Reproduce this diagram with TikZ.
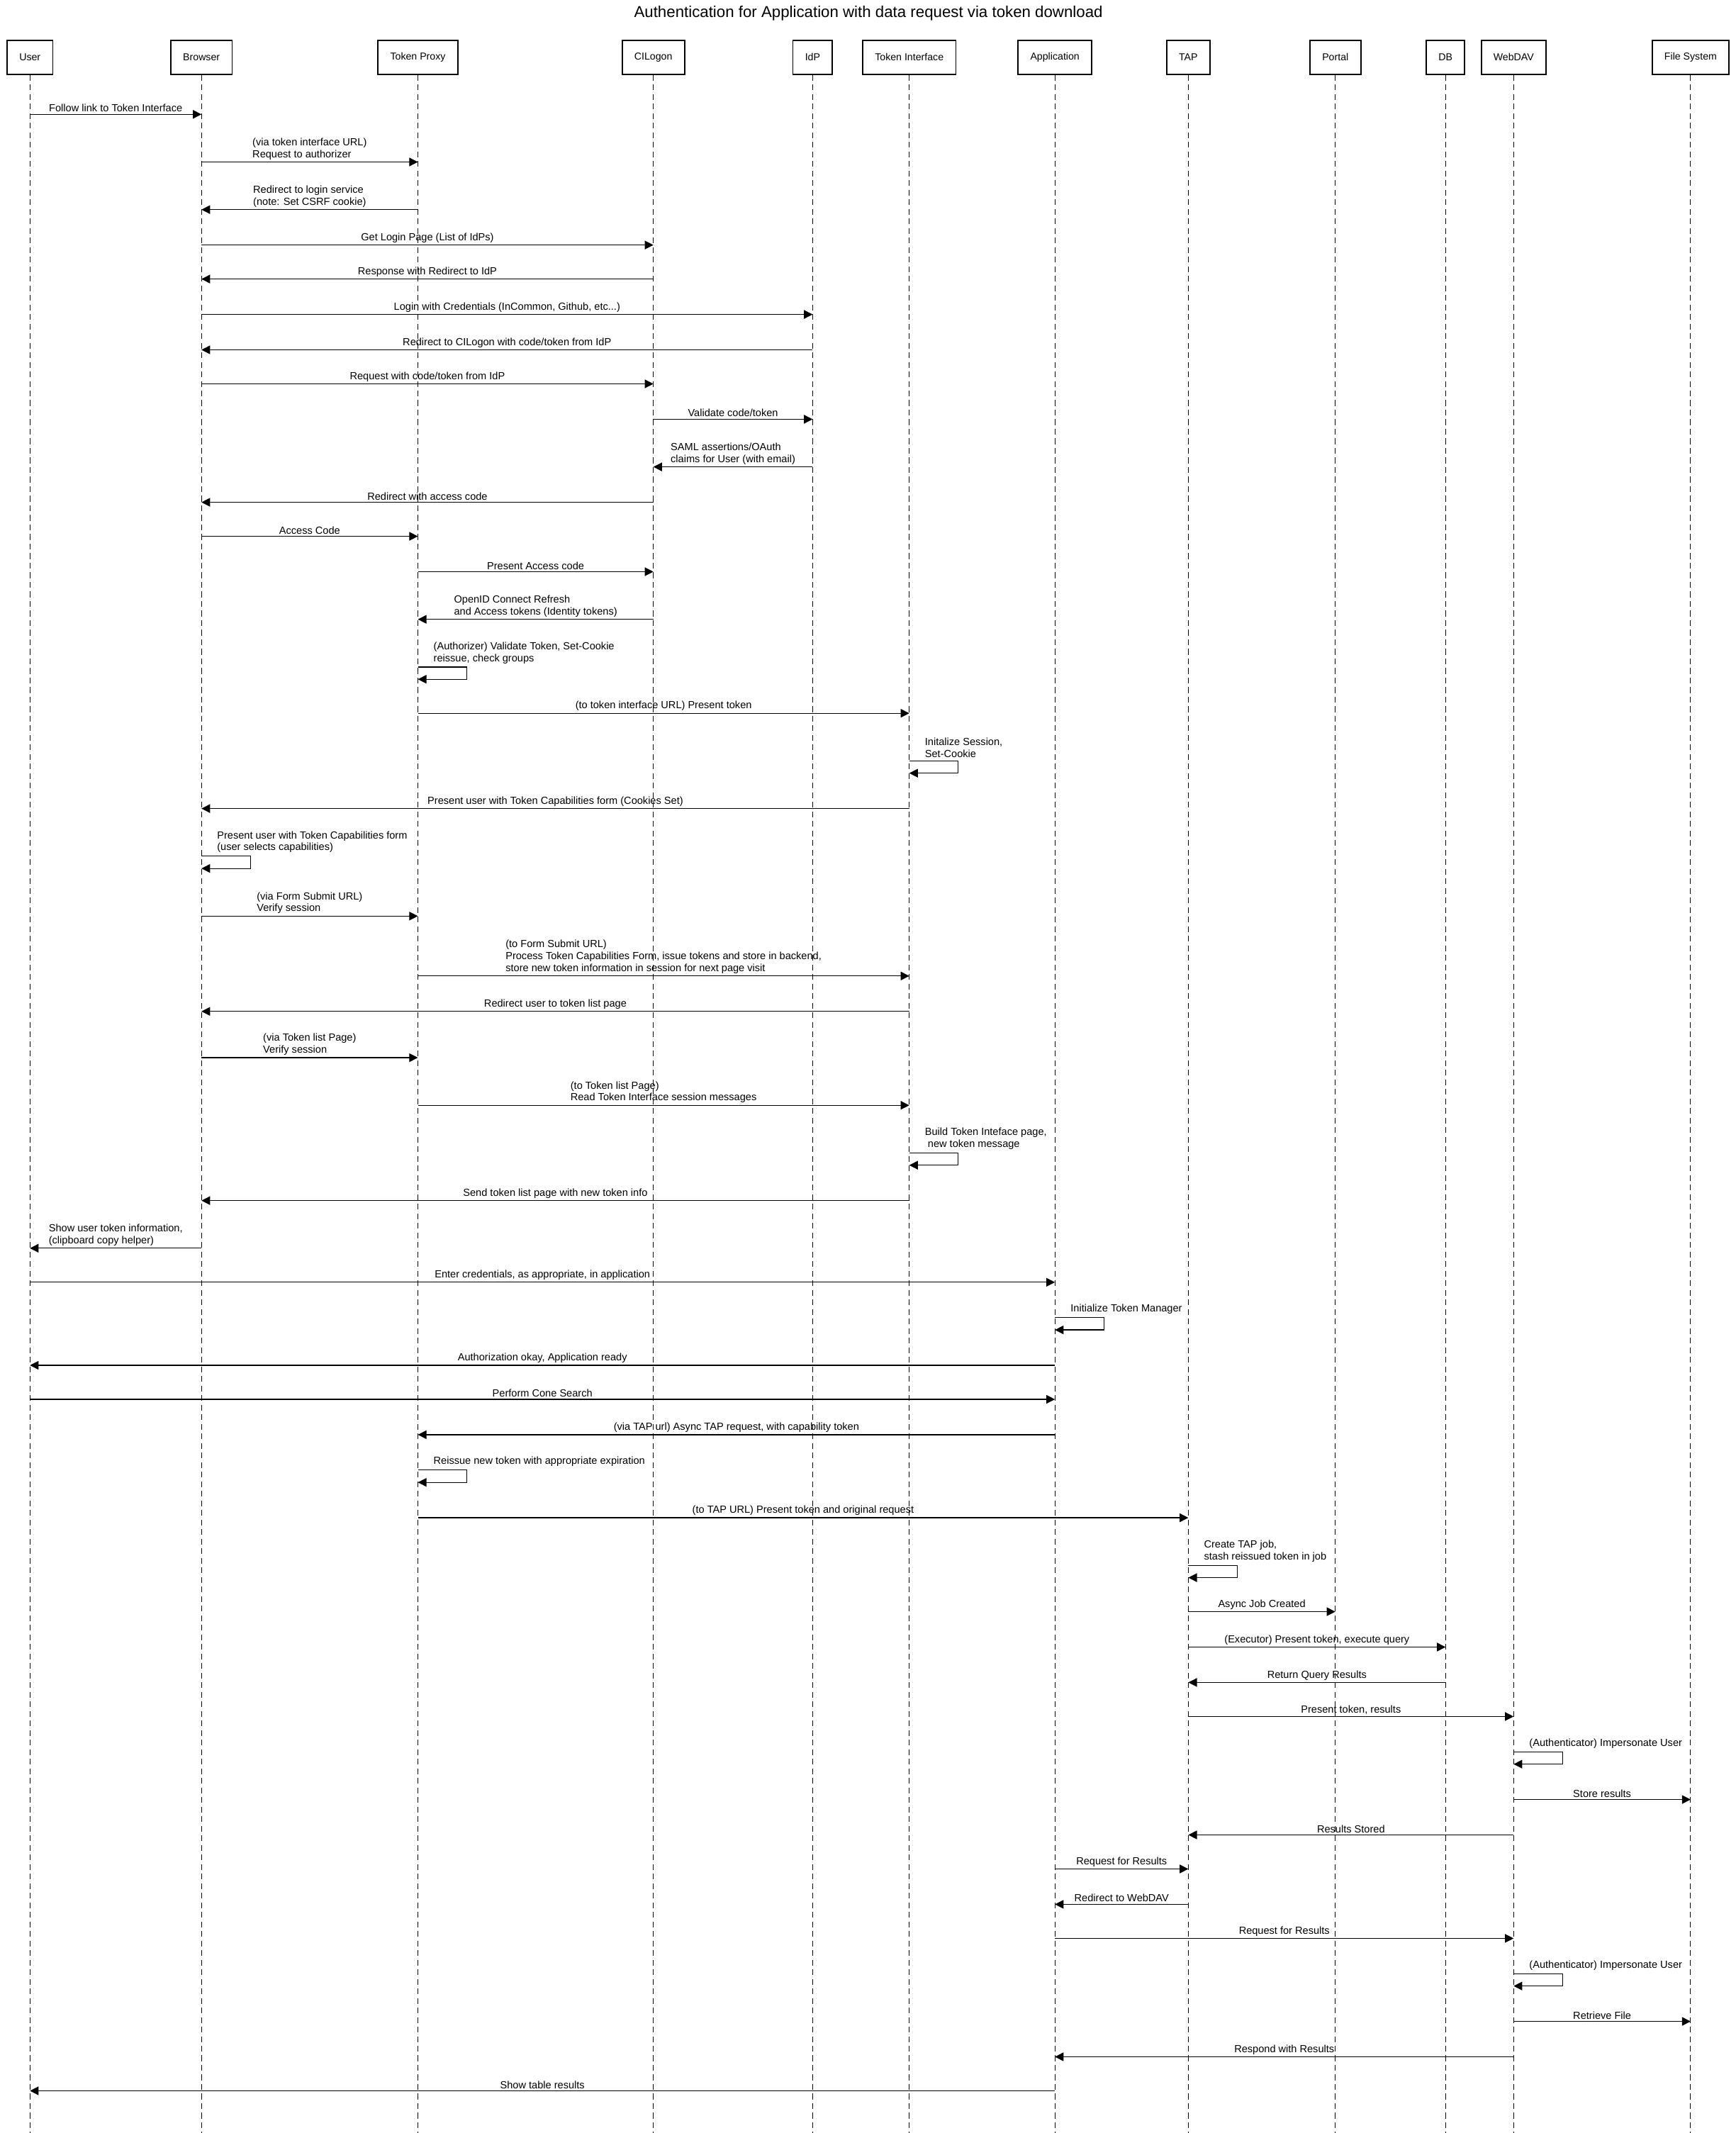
\documentclass[tikz,border=0pt]{standalone}
\usepackage{fontspec}
\setmainfont{Liberation Sans}
\usetikzlibrary{arrows.meta}
\tikzset{
  actor/.style={draw=black,line width=1.4pt,minimum height=1.25cm,inner xsep=0.45cm,font=\fontsize{10.5}{12}\selectfont},
  lifeline/.style={line width=0.7pt,dash pattern=on 6pt off 4pt},
  msgarrow/.style={line width=0.9pt,-{Triangle[length=9pt,width=9pt]}},
  lbl/.style={font=\fontsize{10.8}{12.5}\selectfont,align=left,inner sep=2pt},
}
\newcommand\msg[4]{\draw[msgarrow] (#1|-0,#3) -- node[lbl,above]{#4} (#2|-0,#3);}
\newcommand\selfmsg[3]{\draw[msgarrow] (#1|-0,#2) -- ++(36,0) -- ++(0,9) -- ++(-36,0);
  \path (#1|-0,#2) ++(10,-1) node[lbl,anchor=south west]{#3};}
\begin{document}
\begin{tikzpicture}[x=0.05cm,y=-0.05cm]
\useasboundingbox (0,0) rectangle (1275,1567);
\node[font=\fontsize{16.5}{19}\selectfont] (title) at (638,10) {Authentication for Application with data request via token download};
\foreach \n/\x/\t in {u/22/User,b/148/Browser,tp/307/Token Proxy,cil/480/CILogon,idp/597/IdP,ti/668/Token Interface,app/775/Application,tap/873/TAP,por/981/Portal,db/1062/DB,wd/1112/WebDAV,fs/1242/File System}{
  \node[actor] (\n) at (\x,42) {\t};
  \coordinate (\n end) at (\x,1567);
  \draw[lifeline] (\n.south) -- (\n end);
}
\msg{u}{b}{84}{Follow link to Token Interface}
\msg{b}{tp}{119}{(via token interface URL)\\Request to authorizer}
\msg{tp}{b}{154}{Redirect to login service\\(note: Set CSRF cookie)}
\msg{b}{cil}{180}{Get Login Page (List of IdPs)}
\msg{cil}{b}{205}{Response with Redirect to IdP}
\msg{b}{idp}{231}{Login with Credentials (InCommon, Github, etc...)}
\msg{idp}{b}{257}{Redirect to CILogon with code/token from IdP}
\msg{b}{cil}{282}{Request with code/token from IdP}
\msg{cil}{idp}{308}{Validate code/token}
\msg{idp}{cil}{343}{SAML assertions/OAuth\\claims for User (with email)}
\msg{cil}{b}{369}{Redirect with access code}
\msg{b}{tp}{394}{Access Code}
\msg{tp}{cil}{420}{Present Access code}
\msg{cil}{tp}{455}{OpenID Connect Refresh\\and Access tokens (Identity tokens)}
\selfmsg{tp}{490}{(Authorizer) Validate Token, Set-Cookie\\reissue, check groups}
\msg{tp}{ti}{524}{(to token interface URL) Present token}
\selfmsg{ti}{559}{Initalize Session,\\Set-Cookie}
\msg{ti}{b}{594}{Present user with Token Capabilities form (Cookies Set)}
\selfmsg{b}{629}{Present user with Token Capabilities form\\(user selects capabilities)}
\msg{b}{tp}{673}{(via Form Submit URL)\\Verify session}
\msg{tp}{ti}{717}{(to Form Submit URL)\\Process Token Capabilities Form, issue tokens and store in backend,\\ store new token information in session for next page visit}
\msg{ti}{b}{743}{Redirect user to token list page}
\msg{b}{tp}{777}{(via Token list Page)\\ Verify session}
\msg{tp}{ti}{812}{(to Token list Page)\\ Read Token Interface session messages}
\selfmsg{ti}{847}{Build Token Inteface page,\\ \ new token message}
\msg{ti}{b}{882}{Send token list page with new token info}
\msg{b}{u}{917}{Show user token information,\\(clipboard copy helper)}
\msg{u}{app}{942}{Enter credentials, as appropriate, in application}
\selfmsg{app}{968}{Initialize Token Manager}
\msg{app}{u}{1003}{Authorization okay, Application ready}
\msg{u}{app}{1028}{Perform Cone Search}
\msg{app}{tp}{1054}{(via TAP url) Async TAP request, with capability token}
\selfmsg{tp}{1080}{Reissue new token with appropriate expiration}
\msg{tp}{tap}{1115}{(to TAP URL) Present token and original request}
\selfmsg{tap}{1150}{Create TAP job,\\stash reissued token in job}
\msg{tap}{por}{1184}{Async Job Created}
\msg{tap}{db}{1210}{(Executor) Present token, execute query}
\msg{db}{tap}{1236}{Return Query Results}
\msg{tap}{wd}{1261}{Present token, results}
\selfmsg{wd}{1287}{(Authenticator) Impersonate User}
\msg{wd}{fs}{1322}{Store results}
\msg{wd}{tap}{1348}{Results Stored}
\msg{app}{tap}{1373}{Request for Results}
\msg{tap}{app}{1399}{Redirect to WebDAV}
\msg{app}{wd}{1424}{Request for Results}
\selfmsg{wd}{1450}{(Authenticator) Impersonate User}
\msg{wd}{fs}{1485}{Retrieve File}
\msg{wd}{app}{1511}{Respond with Results}
\msg{app}{u}{1536}{Show table results}
\end{tikzpicture}
\end{document}
